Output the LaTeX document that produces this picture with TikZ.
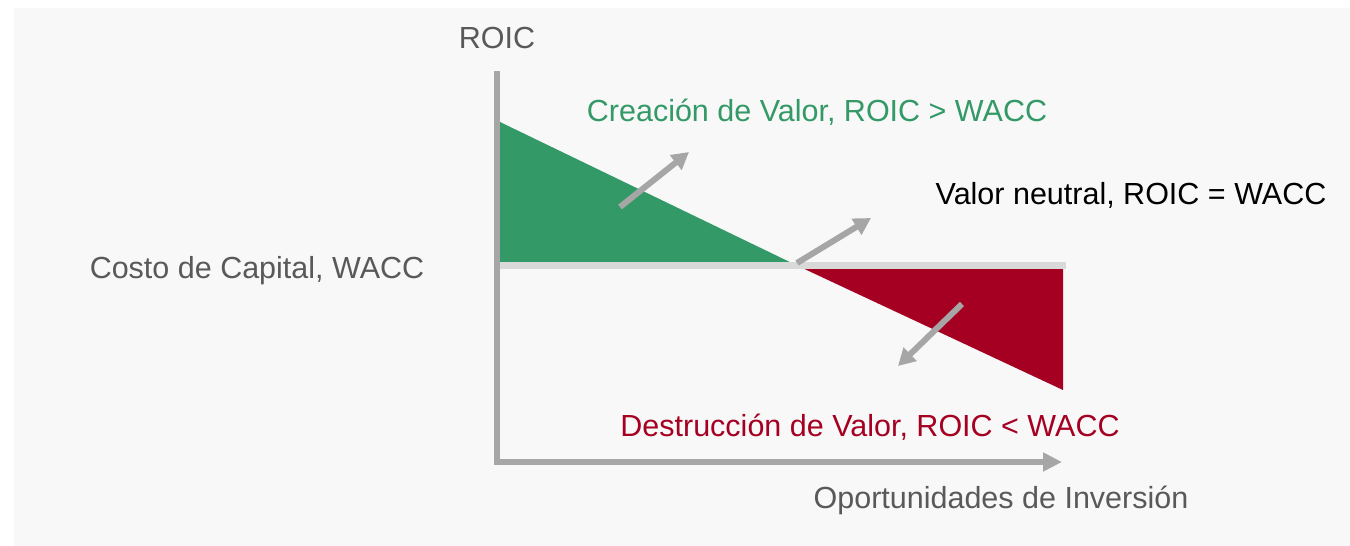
\documentclass[tikz,border=0pt]{standalone}
\usepackage{fontspec}
\setmainfont{Liberation Sans}
\usepackage{tikz}
\usetikzlibrary{arrows.meta,positioning}
\definecolor{bgray}{RGB}{248,248,248}
\definecolor{axgray}{RGB}{166,166,166}
\definecolor{wline}{RGB}{217,217,217}
\definecolor{txgray}{RGB}{89,89,89}
\definecolor{vgreen}{RGB}{51,153,102}
\definecolor{vred}{RGB}{165,0,33}
\tikzstyle{axis} = [
    draw=axgray, line width=6pt,
    -{Triangle[length=19pt,width=18pt]},
]
\tikzstyle{arrow} = [
    draw=axgray, line width=6pt,
    -{Triangle[length=17pt,width=18pt]},
]
\tikzstyle{label} = [
    anchor=base, inner sep=0pt,
    font=\fontsize{30.5}{36}\selectfont,
]

\begin{document}
\begin{tikzpicture}[x=1pt,y=-1pt]
    % background
    \useasboundingbox (0,0) rectangle (1350,546);
    \fill[white] (0,0) rectangle (1350,546);
    \fill[bgray] (14,8) rectangle (1350,546);

    % points
    \coordinate (origin) at (497,462);
    \coordinate (ytip) at (497,71);
    \coordinate (xtip) at (1062,462);
    \coordinate (g1) at (500,122);
    \coordinate (cross) at (797,265.5);
    \coordinate (w0) at (497,265.5);
    \coordinate (w1) at (1066,265.5);
    \coordinate (r1) at (1063,269);
    \coordinate (r2) at (1063,390);

    % areas
    \fill[vgreen] (g1) -- (cross) -- (500,262) -- cycle;
    \fill[vred] (cross) -- (r1) -- (r2) -- cycle;
    \draw[wline, line width=7pt] (w0) -- (w1);

    % axes
    \draw[axis, miter limit=10] (ytip) -- (origin) -- (xtip);

    % labels
    \node[label, text=txgray] (roic) at (497,48) {ROIC};
    \node[label, text=txgray] (wacc) at (257,278) {Costo de Capital, WACC};
    \node[label, text=txgray] (inv) at (1001,508) {Oportunidades de Inversión};
    \node[label, text=vgreen] (crea) at (817,121.5) {Creación de Valor, ROIC > WACC};
    \node[label, text=black] (neutral) at (1131,204) {Valor neutral, ROIC = WACC};
    \node[label, text=vred] (dest) at (870,436) {Destrucción de Valor, ROIC < WACC};

    % arrows
    \coordinate (a1) at (620,207);
    \coordinate (b1) at (689,152);
    \coordinate (a2) at (797,263);
    \coordinate (b2) at (871,218);
    \coordinate (a3) at (962,304);
    \coordinate (b3) at (898,366);
    \foreach \i in {1,2,3} {
        \draw [arrow] (a\i) -- (b\i);
    }
\end{tikzpicture}
\end{document}
